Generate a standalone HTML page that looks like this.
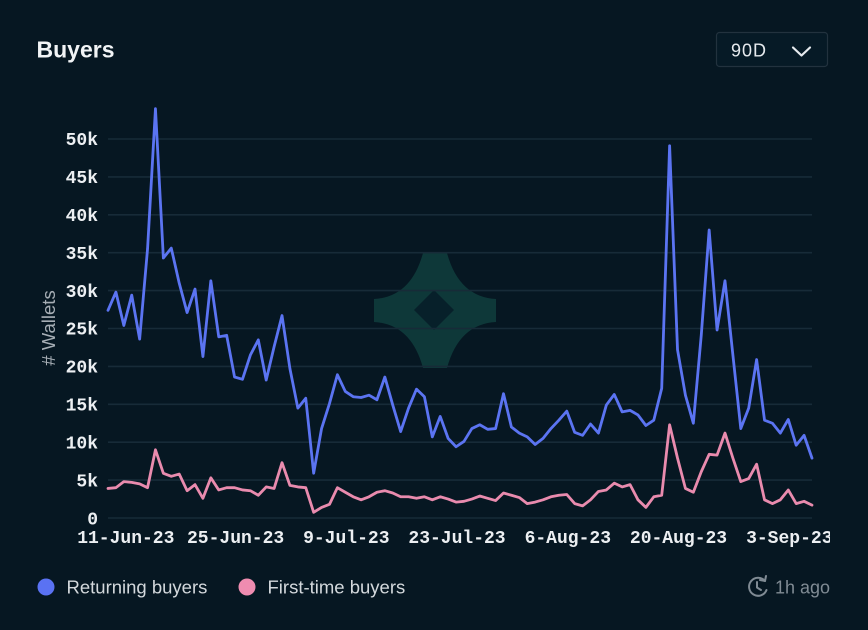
<!DOCTYPE html>
<html>
<head>
<meta charset="utf-8">
<style>
  html, body { margin:0; padding:0; background:#051722; }
  body { width:868px; height:630px; overflow:hidden; }
  svg { display:block; }
</style>
</head>
<body>
<svg width="868" height="630" viewBox="0 0 868 630" xmlns="http://www.w3.org/2000/svg">
  <defs>
    <clipPath id="xclip"><rect x="0" y="500" width="830" height="60"/></clipPath>
  </defs>
  <rect x="0" y="0" width="868" height="630" fill="#061722"/>

  <!-- Title -->
  <text x="36.5" y="57.7" font-family="Liberation Sans, sans-serif" font-weight="bold" font-size="23" fill="#f1f4f6">Buyers</text>

  <!-- Dropdown -->
  <rect x="716.5" y="32.5" width="111" height="34" rx="3" fill="#061a26" stroke="#22323e" stroke-width="1.2"/>
  <text x="731" y="56.7" font-family="Liberation Sans, sans-serif" font-size="18" letter-spacing="1" fill="#e6eaee">90D</text>
  <polyline points="793,47.5 801.5,55.5 810,47.5" fill="none" stroke="#e6eaee" stroke-width="2.2" stroke-linecap="round" stroke-linejoin="round"/>

  <!-- Watermark star -->
  <path d="M423,253 L447,253 Q459,297 496,299 L496,322 Q459,324 447,368 L423,368 Q411,324 374,322 L374,299 Q411,297 423,253 Z" fill="#0e3839"/>
  <path d="M434,290 L454,310 L434,330 L414,310 Z" fill="#07202a"/>

  <!-- Gridlines -->
  <g stroke="#172b38" stroke-width="1.6">
    <line x1="108" y1="518" x2="812" y2="518"/>
    <line x1="108" y1="480.1" x2="812" y2="480.1"/>
    <line x1="108" y1="442.2" x2="812" y2="442.2"/>
    <line x1="108" y1="404.3" x2="812" y2="404.3"/>
    <line x1="108" y1="366.4" x2="812" y2="366.4"/>
    <line x1="108" y1="328.5" x2="812" y2="328.5"/>
    <line x1="108" y1="290.6" x2="812" y2="290.6"/>
    <line x1="108" y1="252.7" x2="812" y2="252.7"/>
    <line x1="108" y1="214.8" x2="812" y2="214.8"/>
    <line x1="108" y1="176.9" x2="812" y2="176.9"/>
    <line x1="108" y1="139" x2="812" y2="139"/>
  </g>

  <!-- Y tick labels -->
  <g font-family="Liberation Mono, monospace" font-weight="bold" font-size="18" fill="#eceff2" text-anchor="end">
    <text x="98" y="524.5">0</text>
    <text x="98" y="486.3">5k</text>
    <text x="98" y="448.4">10k</text>
    <text x="98" y="410.5">15k</text>
    <text x="98" y="372.6">20k</text>
    <text x="98" y="334.7">25k</text>
    <text x="98" y="296.8">30k</text>
    <text x="98" y="258.9">35k</text>
    <text x="98" y="221">40k</text>
    <text x="98" y="183.1">45k</text>
    <text x="98" y="145.2">50k</text>
  </g>

  <!-- Y axis title -->
  <text transform="translate(55,328) rotate(-90)" text-anchor="middle" font-family="Liberation Sans, sans-serif" font-size="18.5" fill="#a6aeb5"># Wallets</text>

  <!-- X tick labels -->
  <g clip-path="url(#xclip)" font-family="Liberation Mono, monospace" font-weight="bold" font-size="18" fill="#eceff2" text-anchor="middle">
    <text x="125.8" y="543">11-Jun-23</text>
    <text x="235.6" y="543">25-Jun-23</text>
    <text x="346.3" y="543">9-Jul-23</text>
    <text x="457" y="543">23-Jul-23</text>
    <text x="567.8" y="543">6-Aug-23</text>
    <text x="678.5" y="543">20-Aug-23</text>
    <text x="789.3" y="543">3-Sep-23</text>
  </g>

  <!-- Series -->
  <g transform="matrix(7.91,0,0,-7.58,108,518)">
    <polyline fill="none" stroke="#e98bae" stroke-width="2.8" stroke-linejoin="round" stroke-linecap="round" vector-effect="non-scaling-stroke"
      points="0,3.9 1,4.0 2,4.8 3,4.7 4,4.5 5,4.0 6,9.0 7,5.9 8,5.5 9,5.8 10,3.6 11,4.4 12,2.6 13,5.3 14,3.7 15,4.0 16,4.0 17,3.7 18,3.6 19,3.0 20,4.1 21,3.9 22,7.3 23,4.3 24,4.1 25,4.0 26,0.75 27,1.4 28,1.8 29,4.0 30,3.4 31,2.8 32,2.4 33,2.8 34,3.4 35,3.6 36,3.3 37,2.8 38,2.8 39,2.6 40,2.8 41,2.4 42,2.8 43,2.5 44,2.1 45,2.2 46,2.5 47,2.9 48,2.6 49,2.3 50,3.3 51,3.0 52,2.7 53,1.9 54,2.1 55,2.4 56,2.8 57,3.0 58,3.1 59,1.9 60,1.6 61,2.4 62,3.5 63,3.7 64,4.6 65,4.1 66,4.4 67,2.4 68,1.4 69,2.8 70,3.0 71,12.3 72,7.9 73,3.9 74,3.4 75,6.1 76,8.4 77,8.3 78,11.2 79,7.9 80,4.8 81,5.2 82,7.1 83,2.4 84,1.9 85,2.4 86,3.7 87,1.9 88,2.2 89,1.7"/>
    <polyline fill="none" stroke="#5b74f2" stroke-width="2.8" stroke-linejoin="round" stroke-linecap="round" vector-effect="non-scaling-stroke"
      points="0,27.4 1,29.8 2,25.4 3,29.4 4,23.6 5,35.5 6,54.0 7,34.3 8,35.6 9,31 10,27.1 11,30.2 12,21.3 13,31.3 14,23.9 15,24.1 16,18.6 17,18.3 18,21.5 19,23.5 20,18.2 21,22.6 22,26.7 23,19.7 24,14.5 25,15.8 26,5.9 27,11.8 28,15.1 29,18.9 30,16.7 31,16 32,15.9 33,16.2 34,15.6 35,18.6 36,14.9 37,11.4 38,14.5 39,17 40,16 41,10.7 42,13.4 43,10.5 44,9.4 45,10.1 46,11.8 47,12.3 48,11.7 49,11.8 50,16.4 51,12 52,11.2 53,10.7 54,9.7 55,10.5 56,11.8 57,12.9 58,14.1 59,11.3 60,10.9 61,12.4 62,11.2 63,14.9 64,16.3 65,14 66,14.2 67,13.6 68,12.2 69,12.9 70,17.1 71,49.1 72,22.2 73,16.2 74,12.5 75,24.1 76,38.0 77,24.8 78,31.3 79,21.5 80,11.8 81,14.5 82,20.9 83,12.9 84,12.5 85,11.2 86,13 87,9.6 88,10.9 89,7.9"/>
  </g>

  <!-- Legend -->
  <circle cx="46" cy="587" r="8.5" fill="#5a72f3"/>
  <text x="66.5" y="593.5" font-family="Liberation Sans, sans-serif" font-size="18.5" fill="#d3d8dc">Returning buyers</text>
  <circle cx="247" cy="587" r="8.5" fill="#ef8cb0"/>
  <text x="267.5" y="593.5" font-family="Liberation Sans, sans-serif" font-size="18.5" fill="#d3d8dc">First-time buyers</text>

  <!-- Updated indicator -->
  <g fill="none" stroke="#808b94" stroke-width="2" stroke-linecap="round" stroke-linejoin="round">
    <path d="M765,581 A9,9 0 1 0 766.5,590"/>
    <polyline points="760,580 765,581 766,576"/>
    <polyline points="757,582 757,587.5 761,590"/>
  </g>
  <text x="775" y="593.5" font-family="Liberation Sans, sans-serif" font-size="18" fill="#808b94">1h ago</text>
</svg>
</body>
</html>
